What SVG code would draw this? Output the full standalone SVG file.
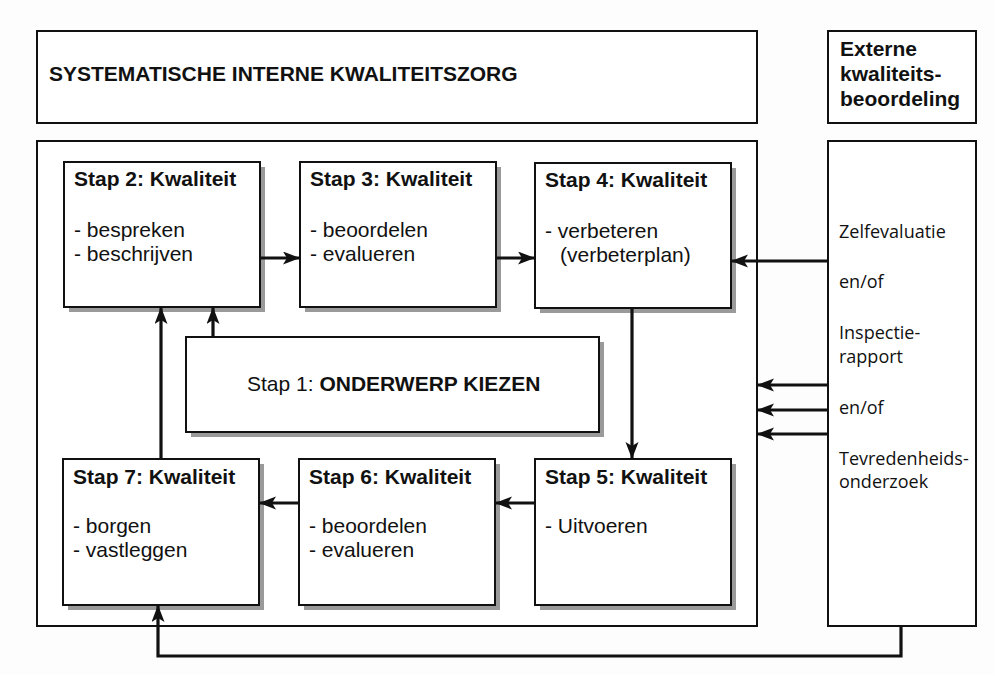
<svg xmlns="http://www.w3.org/2000/svg" width="994" height="675" viewBox="0 0 994 675">
<defs>
<style>
.frame{fill:#fff;stroke:#111;stroke-width:2}
.box{fill:#fff;stroke:#111;stroke-width:2}
.shadow{fill:#9a9a9a}
.ttl{font-family:"Liberation Sans",Arial,sans-serif;font-weight:bold;font-size:21px;fill:#111}
.hd{font-family:"Liberation Sans",Arial,sans-serif;font-weight:bold;font-size:21px;fill:#111}
.bd{font-family:"Liberation Sans",Arial,sans-serif;font-size:21px;fill:#111}
.ext{font-family:"Open Sans","Liberation Sans",sans-serif;font-size:18px;fill:#111}
.con{fill:none;stroke:#111;stroke-width:3.2;marker-end:url(#ah)}
</style>
<marker id="ah" markerUnits="userSpaceOnUse" markerWidth="20" markerHeight="14" refX="17" refY="6.5" orient="auto">
<path d="M0,0 L17,6.5 L0,13 L4,6.5 z" fill="#111"/>
</marker>
</defs>
<rect width="994" height="675" fill="#fdfdfd"/>

<g id="title">
<rect class="frame" x="37" y="31" width="720" height="92"/>
<text class="ttl" x="49" y="81">SYSTEMATISCHE INTERNE KWALITEITSZORG</text>
</g>

<g id="externe">
<rect class="frame" x="828" y="31" width="148" height="92"/>
<text class="hd" x="840" y="56">Externe</text>
<text class="hd" x="840" y="81">kwaliteits-</text>
<text class="hd" x="840" y="106">beoordeling</text>
</g>

<g id="main">
<rect class="frame" x="37" y="141" width="720" height="485"/>
</g>

<g id="bronnen">
<rect class="frame" x="828" y="141" width="148" height="485"/>
<text class="ext" x="839" y="238">Zelfevaluatie</text>
<text class="ext" x="839" y="288">en/of</text>
<text class="ext" x="839" y="339">Inspectie-</text>
<text class="ext" x="839" y="363">rapport</text>
<text class="ext" x="839" y="414">en/of</text>
<text class="ext" x="839" y="465">Tevredenheids-</text>
<text class="ext" x="839" y="488">onderzoek</text>
</g>

<g id="stap2">
<rect class="shadow" x="69" y="167" width="196" height="145"/>
<rect class="box" x="64" y="162" width="196" height="145"/>
<text class="hd" x="74" y="186">Stap 2: Kwaliteit</text>
<text class="bd" x="74" y="237">- bespreken</text>
<text class="bd" x="74" y="261">- beschrijven</text>
</g>

<g id="stap3">
<rect class="shadow" x="305" y="167" width="196" height="145"/>
<rect class="box" x="300" y="162" width="196" height="145"/>
<text class="hd" x="310" y="186">Stap 3: Kwaliteit</text>
<text class="bd" x="310" y="237">- beoordelen</text>
<text class="bd" x="310" y="261">- evalueren</text>
</g>

<g id="stap4">
<rect class="shadow" x="540" y="168" width="196" height="145"/>
<rect class="box" x="535" y="163" width="196" height="145"/>
<text class="hd" x="545" y="187">Stap 4: Kwaliteit</text>
<text class="bd" x="545" y="238">- verbeteren</text>
<text class="bd" x="560" y="262">(verbeterplan)</text>
</g>

<g id="stap1">
<rect class="shadow" x="191" y="342" width="413" height="95"/>
<rect class="box" x="186" y="337" width="413" height="95"/>
<text x="247" y="391"><tspan class="bd">Stap 1: </tspan><tspan class="hd">ONDERWERP KIEZEN</tspan></text>
</g>

<g id="stap7">
<rect class="shadow" x="68" y="464" width="196" height="146"/>
<rect class="box" x="63" y="459" width="196" height="146"/>
<text class="hd" x="73" y="484">Stap 7: Kwaliteit</text>
<text class="bd" x="73" y="533">- borgen</text>
<text class="bd" x="73" y="557">- vastleggen</text>
</g>

<g id="stap6">
<rect class="shadow" x="304" y="464" width="196" height="146"/>
<rect class="box" x="299" y="459" width="196" height="146"/>
<text class="hd" x="309" y="484">Stap 6: Kwaliteit</text>
<text class="bd" x="309" y="533">- beoordelen</text>
<text class="bd" x="309" y="557">- evalueren</text>
</g>

<g id="stap5">
<rect class="shadow" x="540" y="464" width="196" height="146"/>
<rect class="box" x="535" y="459" width="196" height="146"/>
<text class="hd" x="545" y="484">Stap 5: Kwaliteit</text>
<text class="bd" x="545" y="533">- Uitvoeren</text>
</g>

<g id="connectors">
<line class="con" x1="261" y1="258" x2="300" y2="258"/>
<line class="con" x1="497" y1="258" x2="535" y2="258"/>
<line class="con" x1="828" y1="261" x2="731" y2="261"/>
<line class="con" x1="632" y1="308" x2="632" y2="459"/>
<line class="con" x1="535" y1="503" x2="495" y2="503"/>
<line class="con" x1="299" y1="503" x2="259" y2="503"/>
<line class="con" x1="161" y1="459" x2="161" y2="307"/>
<line class="con" x1="213" y1="337" x2="213" y2="307"/>
<line class="con" x1="828" y1="385" x2="757" y2="385"/>
<line class="con" x1="828" y1="410" x2="757" y2="410"/>
<line class="con" x1="828" y1="434" x2="757" y2="434"/>
<path class="con" d="M901,626 V656 H158 V605"/>
</g>
</svg>
